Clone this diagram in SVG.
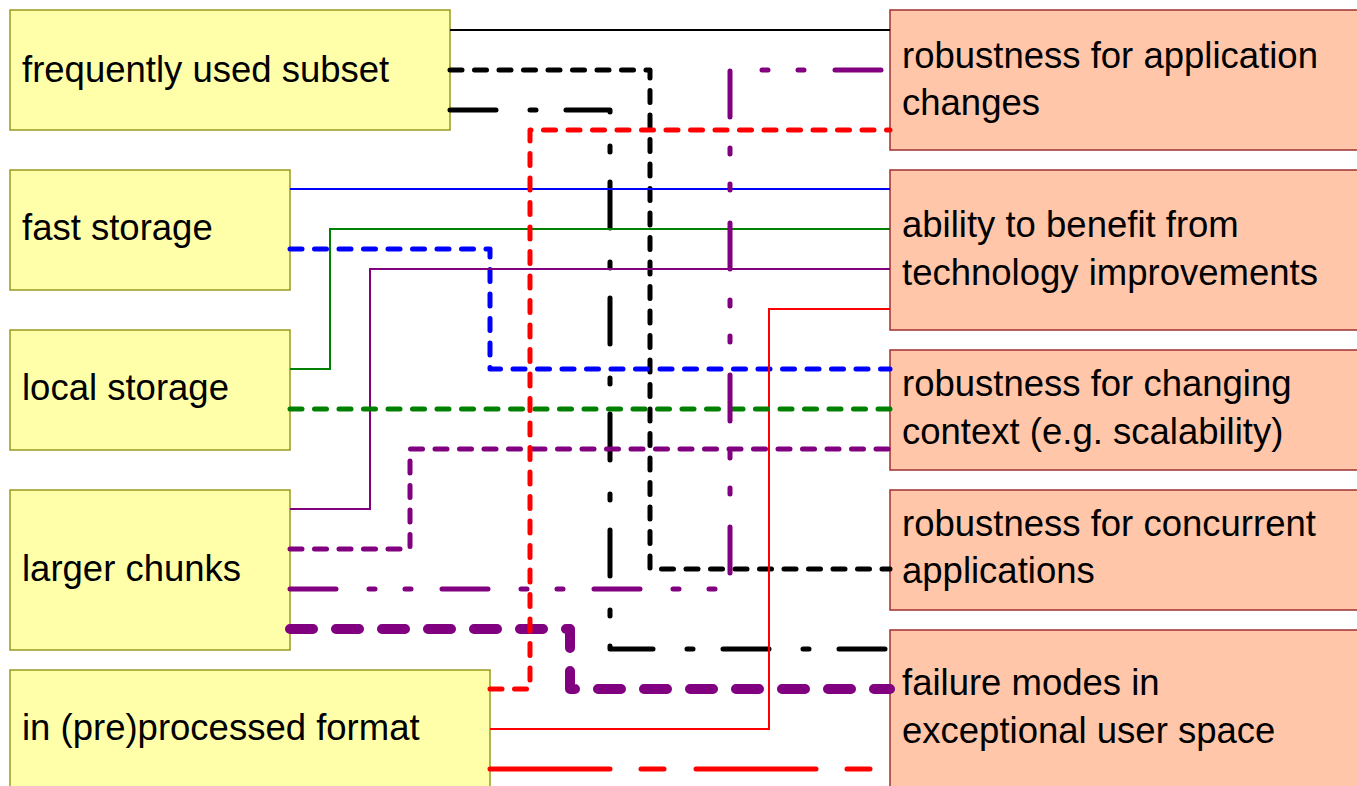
<svg xmlns="http://www.w3.org/2000/svg" width="1357" height="786" viewBox="0 0 1357 786">
  <style>
    .src rect { fill: #ffffaa; stroke: #9a9a1e; stroke-width: 1.5; }
    .dst rect { fill: #ffc6a9; stroke: #a03030; stroke-width: 1.5; }
    text { font-family: "Liberation Sans", Arial, Helvetica, sans-serif; font-size: 36.5px; fill: #000; }
    .links path { fill: none; stroke-linejoin: round; stroke-linecap: round; }
    .links .thin { stroke-width: 2; stroke-linecap: butt; stroke-linejoin: miter; }
    .links .dash { stroke-width: 5; stroke-dasharray: 12 12.5; }
    .links .dashdot { stroke-width: 5; stroke-dasharray: 46 34 6 30; }
    .links .dashdotdot { stroke-width: 5; stroke-dasharray: 46 33 6 30 6 31; }
    .links .longshort { stroke-width: 5; stroke-dasharray: 120 31 23 32; }
    .links .heavy { stroke-width: 10; stroke-dasharray: 23 23; }
  </style>

  <!-- source properties (left column) -->
  <g id="n-subset" class="src">
    <rect x="10" y="10" width="440" height="120"/>
    <text x="22" y="82">frequently used subset</text>
  </g>
  <g id="n-fast" class="src">
    <rect x="10" y="170" width="280" height="120"/>
    <text x="22" y="240">fast storage</text>
  </g>
  <g id="n-local" class="src">
    <rect x="10" y="330" width="280" height="120"/>
    <text x="22" y="400">local storage</text>
  </g>
  <g id="n-chunks" class="src">
    <rect x="10" y="490" width="280" height="160"/>
    <text x="22" y="581">larger chunks</text>
  </g>
  <g id="n-format" class="src">
    <rect x="10" y="670" width="480" height="130"/>
    <text x="22" y="740">in (pre)processed format</text>
  </g>

  <!-- qualities (right column) -->
  <g id="q-appchanges" class="dst">
    <rect x="890" y="10" width="480" height="140"/>
    <text x="902" y="68">robustness for application</text>
    <text x="902" y="115">changes</text>
  </g>
  <g id="q-technology" class="dst">
    <rect x="890" y="170" width="480" height="160"/>
    <text x="902" y="237">ability to benefit from</text>
    <text x="902" y="285">technology improvements</text>
  </g>
  <g id="q-context" class="dst">
    <rect x="890" y="350" width="480" height="120"/>
    <text x="902" y="396">robustness for changing</text>
    <text x="902" y="444">context (e.g. scalability)</text>
  </g>
  <g id="q-concurrent" class="dst">
    <rect x="890" y="490" width="480" height="120"/>
    <text x="902" y="536">robustness for concurrent</text>
    <text x="902" y="583">applications</text>
  </g>
  <g id="q-failure" class="dst">
    <rect x="890" y="630" width="480" height="170"/>
    <text x="902" y="695">failure modes in</text>
    <text x="902" y="743">exceptional user space</text>
  </g>

  <!-- connectors -->
  <g id="links" class="links">
    <path class="thin" stroke="#000000" d="M450,30 H890"/>
    <path class="dash" stroke="#000000" d="M450,70 H650 V569 H890"/>
    <path class="dashdot" stroke="#000000" d="M450,110 H610 V649 H890"/>
    <path class="thin" stroke="#0000ff" d="M290,189 H890"/>
    <path class="thin" stroke="#008000" d="M290,369 H330 V229 H890"/>
    <path class="dash" stroke="#0000ff" d="M290,249 H490 V369 H890"/>
    <path class="thin" stroke="#800080" d="M290,509 H370 V269 H890"/>
    <path class="thin" stroke="#ff0000" d="M490,729 H769 V309 H890"/>
    <path class="dash" stroke="#008000" d="M290,409 H890"/>
    <path class="dash" stroke="#800080" d="M290,549 H410 V449 H890"/>
    <path class="dashdotdot" stroke="#800080" d="M290,589 H730 V70 H890"/>
    <path class="heavy" stroke="#800080" d="M290,629 H570 V689 H890"/>
    <path class="dash" stroke="#ff0000" d="M490,689 H530 V130 H890"/>
    <path class="longshort" stroke="#ff0000" d="M490,769 H890"/>
  </g>
</svg>
